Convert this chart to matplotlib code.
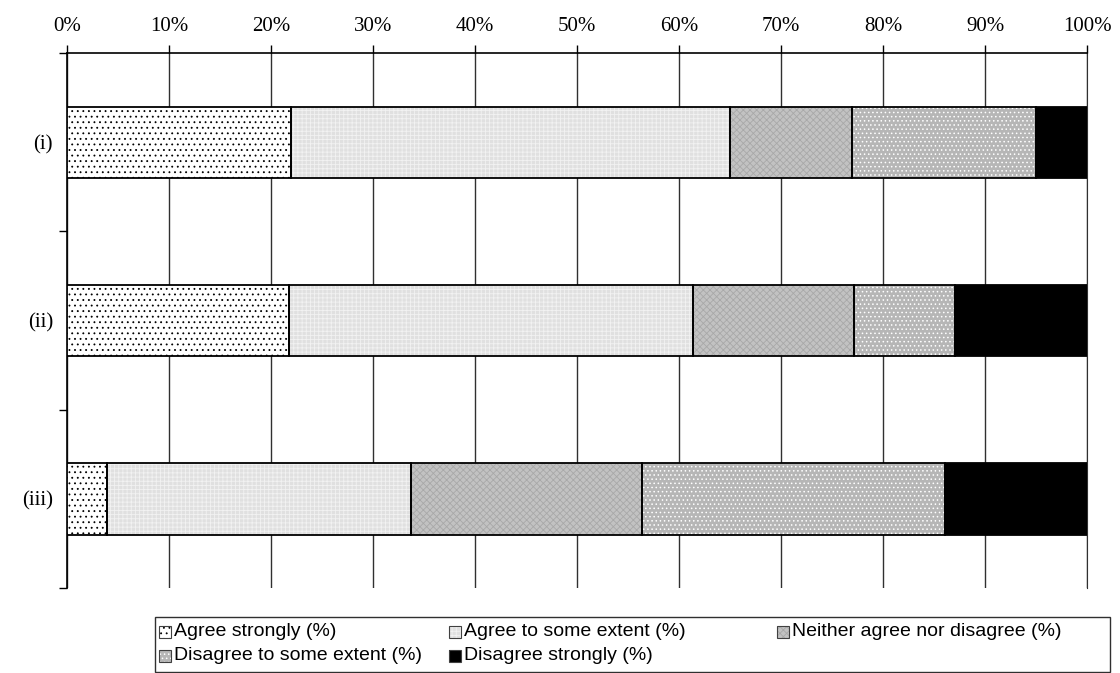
import matplotlib.pyplot as plt
import numpy as np
from matplotlib.patches import Rectangle

# survey items and response shares (%)
items = ['(i)', '(ii)', '(iii)']
agree_strongly = [22.0, 21.8, 3.9]
agree_some = [43.0, 39.6, 29.8]
neither = [12.0, 15.8, 22.7]
disagree_some = [18.0, 9.9, 29.7]
disagree_strongly = [5.0, 12.9, 13.9]

labels = ['Agree strongly (%)', 'Agree to some extent (%)',
          'Neither agree nor disagree (%)', 'Disagree to some extent (%)',
          'Disagree strongly (%)']
series = [agree_strongly, agree_some, neither, disagree_some, disagree_strongly]
# (face, hatch, hatch colour)
styles = [('white', '...', 'black'),
          ('#e0e0e0', '++++', '#f2f2f2'),
          ('#c2c2c2', 'xxxxx', '#a8a8a8'),
          ('#b6b6b6', '....', 'white'),
          ('black', '', 'black')]

W, H = 1120, 673
fig = plt.figure(figsize=(W / 100, H / 100), dpi=100)
ax = fig.add_axes([67 / W, 1 - 588 / H, 1020 / W, 535 / H])

plt.rcParams['hatch.linewidth'] = 0.6
y = np.arange(len(items))
left = np.zeros(len(items))
for vals, (fc, hatch, hc) in zip(series, styles):
    vals = np.array(vals)
    ax.barh(y, vals, left=left, height=0.4, color=fc, hatch=hatch,
            edgecolor=hc, linewidth=0, zorder=3)
    ax.barh(y, vals, left=left, height=0.4, fill=False,
            edgecolor='black', linewidth=1.3, zorder=4)
    left += vals

ax.set_xlim(0, 100)
ax.set_ylim(2.5, -0.5)
ax.set_xticks(np.arange(0, 101, 10))
ax.set_xticklabels([f'{v}%' for v in range(0, 101, 10)],
                   family='Liberation Serif', fontsize=15)
ax.xaxis.tick_top()
ax.tick_params(axis='x', direction='out', length=6, width=1, pad=6)
ax.set_yticks(y)
ax.set_yticklabels(items, family='Liberation Serif', fontsize=15)
ax.tick_params(axis='y', which='major', length=0, pad=10)
ax.set_yticks([-0.5, 0.5, 1.5, 2.5], minor=True)
ax.tick_params(axis='y', which='minor', length=6, width=1, direction='out')

ax.grid(axis='x', color='#303030', linewidth=1, zorder=0)
ax.set_axisbelow(True)
ax.spines['bottom'].set_visible(False)
ax.spines['right'].set_color('#303030')
ax.spines['top'].set_linewidth(1.2)
ax.spines['left'].set_linewidth(1.2)

# legend box, laid out row-wise like the original
def fx(px):
    return px / W

def fy(py):
    return 1 - py / H

fig.add_artist(Rectangle((fx(155), fy(672)), fx(1110) - fx(155), fy(617) - fy(672),
                         transform=fig.transFigure, fill=False,
                         edgecolor='#303030', linewidth=1.0))
col_x = [159, 449, 777, 159, 449]
row_y = [632, 632, 632, 656, 656]
for lab, (fc, hatch, hc), cx, ry in zip(labels, styles, col_x, row_y):
    fig.add_artist(Rectangle((fx(cx), fy(ry + 6)), 12 / W, 12 / H,
                             transform=fig.transFigure, facecolor=fc,
                             hatch=hatch, edgecolor=hc, linewidth=0))
    fig.add_artist(Rectangle((fx(cx), fy(ry + 6)), 12 / W, 12 / H,
                             transform=fig.transFigure, fill=False,
                             edgecolor='#404040', linewidth=0.8))
    fig.text(fx(cx + 15), fy(ry), lab, family='Liberation Sans', fontsize=14,
             va='center', ha='left')

fig.savefig('out.png', dpi=100)
